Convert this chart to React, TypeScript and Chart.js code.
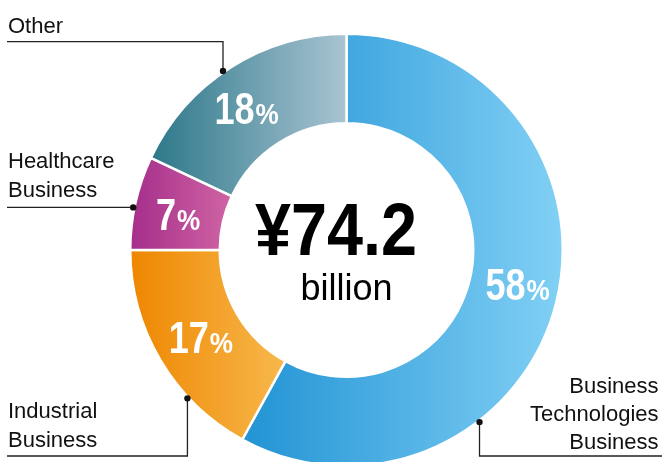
import React, { useEffect, useRef } from "react";
import { Chart, registerables } from "chart.js";

Chart.register(...registerables);

const categories = ["Business Technologies Business", "Industrial Business", "Healthcare Business", "Other"];
const shares = [58, 17, 7, 18];
const calloutLines = [["Business", "Technologies", "Business"], ["Industrial", "Business"], ["Healthcare", "Business"], ["Other"]];
const totalValue = "¥74.2";
const totalUnit = "billion";
const gradientStops = [
  ["#2193d4", "#82d0f5"],
  ["#ee8600", "#f7b84c"],
  ["#a42d8b", "#d064a3"],
  ["#2c7789", "#a9c4d2"],
];

const W = 662;
const H = 470;
const CUTOUT = 0.586;
const FONT = "'Liberation Sans', Arial, Helvetica, sans-serif";

function geometry(chart: any) {
  const a = chart.chartArea;
  const cx = (a.left + a.right) / 2;
  const cy = (a.top + a.bottom) / 2;
  const R = Math.min(a.right - a.left, a.bottom - a.top) / 2;
  return { cx, cy, R };
}

function segmentXRange(chart: any, index: number) {
  const { cx, R } = geometry(chart);
  const r = R * CUTOUT;
  const total = shares.reduce((s, v) => s + v, 0);
  let start = 0;
  for (let i = 0; i < index; i++) start += shares[i];
  const a0 = (start / total) * Math.PI * 2;
  const a1 = ((start + shares[index]) / total) * Math.PI * 2;
  let min = Infinity;
  let max = -Infinity;
  for (let k = 0; k <= 90; k++) {
    const ang = a0 + ((a1 - a0) * k) / 90;
    for (const rad of [r, R]) {
      const x = cx + rad * Math.sin(ang);
      if (x < min) min = x;
      if (x > max) max = x;
    }
  }
  return [min, max];
}

// per-label small nudges (px) for the percentage texts
const pctNudge = [
  [5, -9],
  [2, 0],
  [-1, 1],
  [-8, 3],
];

// callout configuration: angle (deg clockwise from top) of the dot on the outer edge
const callouts = [
  { angle: 142.3, lineY: 456, edgeX: 662, align: "right", textX: 658.5, baselines: [392.7, 421, 448.5] },
  { angle: 227, lineY: 456, edgeX: 7, align: "left", textX: 8, baselines: [418.3, 447.3] },
  { angle: 281.3, lineY: null, edgeX: 7, align: "left", textX: 8, baselines: [168.3, 197.3] },
  { angle: 325.4, lineY: 41.7, edgeX: 7, align: "left", textX: 8, baselines: [33.3] },
];

const overlayPlugin = {
  id: "overlay",
  afterDraw(chart: any) {
    const ctx = chart.ctx;
    const { cx, cy, R } = geometry(chart);
    const meta = chart.getDatasetMeta(0);

    ctx.save();
    // percentage labels
    meta.data.forEach((arc: any, i: number) => {
      const p = arc.getCenterPoint();
      const x = p.x + pctNudge[i][0];
      const y = p.y + pctNudge[i][1];
      const digits = String(shares[i]);
      ctx.font = `bold 44px ${FONT}`;
      const dW = ctx.measureText(digits).width * 0.82;
      ctx.font = `bold 29px ${FONT}`;
      const pW = ctx.measureText("%").width * 0.9;
      const total = dW + pW + 1;
      const left = x - total / 2;
      const base = y + 16;
      ctx.fillStyle = "#ffffff";
      ctx.textAlign = "left";
      ctx.textBaseline = "alphabetic";
      ctx.save();
      ctx.translate(left, base);
      ctx.scale(0.82, 1);
      ctx.font = `bold 44px ${FONT}`;
      ctx.fillText(digits, 0, 0);
      ctx.restore();
      ctx.save();
      ctx.translate(left + dW + 1, base);
      ctx.scale(0.9, 1);
      ctx.font = `bold 29px ${FONT}`;
      ctx.fillText("%", 0, 0);
      ctx.restore();
    });

    // center text
    ctx.fillStyle = "#000000";
    ctx.save();
    ctx.translate(cx - 10.5, cy + 5);
    ctx.scale(0.875, 1);
    ctx.font = `bold 74px ${FONT}`;
    ctx.textAlign = "center";
    ctx.textBaseline = "alphabetic";
    ctx.fillText(totalValue, 0, 0);
    ctx.restore();
    ctx.font = `36px ${FONT}`;
    ctx.textAlign = "center";
    ctx.fillText(totalUnit, cx, cy + 50);

    // callouts
    ctx.font = `22px ${FONT}`;
    ctx.fillStyle = "#111111";
    ctx.strokeStyle = "#222222";
    ctx.lineWidth = 1.3;
    callouts.forEach((c, i) => {
      ctx.textAlign = c.align as CanvasTextAlign;
      calloutLines[i].forEach((line, j) => ctx.fillText(line, c.textX, c.baselines[j]));
      const ang = (c.angle * Math.PI) / 180;
      const dx = cx + R * Math.sin(ang);
      const dy = cy - R * Math.cos(ang);
      const ly = c.lineY == null ? dy : c.lineY;
      ctx.beginPath();
      ctx.moveTo(c.edgeX, ly);
      ctx.lineTo(dx, ly);
      ctx.lineTo(dx, dy);
      ctx.stroke();
      ctx.beginPath();
      ctx.arc(dx, dy, 3.2, 0, Math.PI * 2);
      ctx.fillStyle = "#111111";
      ctx.fill();
    });
    ctx.restore();
  },
};

export default function App() {
  const ref = useRef<HTMLCanvasElement | null>(null);
  useEffect(() => {
    document.body.style.margin = "0";
    const canvas = ref.current;
    if (!canvas) return;
    const chart = new Chart(canvas, {
      type: "doughnut",
      data: {
        labels: categories,
        datasets: [
          {
            data: shares,
            backgroundColor: (c: any) => {
              const chart = c.chart;
              const idx = c.dataIndex ?? 0;
              if (!chart.chartArea) return gradientStops[idx][0];
              const [x0, x1] = segmentXRange(chart, idx);
              const g = chart.ctx.createLinearGradient(x0, 0, x1, 0);
              g.addColorStop(0, gradientStops[idx][0]);
              g.addColorStop(1, gradientStops[idx][1]);
              return g;
            },
            borderColor: "#ffffff",
            borderWidth: 2.5,
            hoverOffset: 0,
          },
        ],
      },
      options: {
        responsive: false,
        animation: false,
        cutout: `${CUTOUT * 100}%`,
        rotation: 0,
        layout: { padding: { left: 129, right: 98, top: 32.5, bottom: 2.5 } },
        plugins: { legend: { display: false }, tooltip: { enabled: false } },
        events: [],
      },
      plugins: [overlayPlugin],
    });
    return () => chart.destroy();
  }, []);
  return (
    <div style={{ width: W, height: 462, overflow: "hidden", background: "#fff" }}>
      <canvas ref={ref} width={W} height={H} style={{ display: "block" }} />
    </div>
  );
}
